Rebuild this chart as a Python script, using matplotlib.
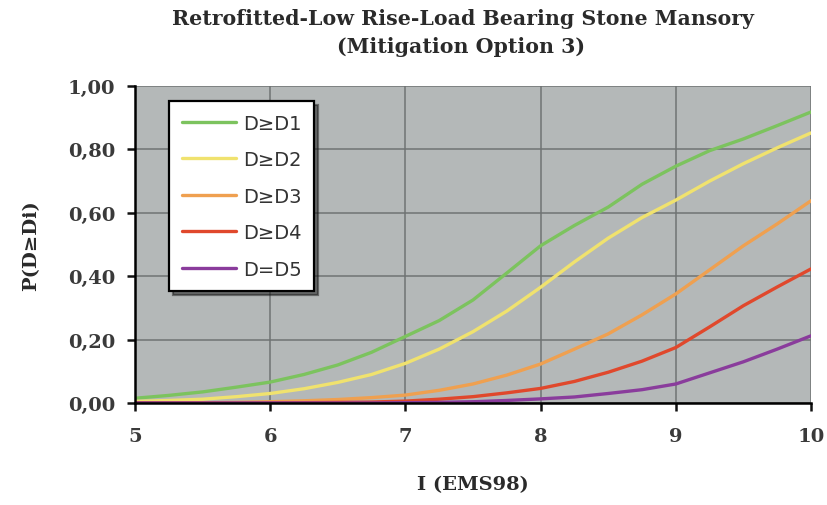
import numpy as np
import matplotlib
matplotlib.use("Agg")
import matplotlib.pyplot as plt

# intensity (EMS98) and exceedance probabilities
intensity = [5.0, 5.25, 5.5, 5.75, 6.0, 6.25, 6.5, 6.75, 7.0, 7.25, 7.5,
             7.75, 8.0, 8.25, 8.5, 8.75, 9.0, 9.25, 9.5, 9.75, 10.0]
p_d1 = [0.015, 0.024, 0.035, 0.05, 0.066, 0.09, 0.12, 0.16, 0.21, 0.26, 0.325,
        0.41, 0.496, 0.56, 0.618, 0.69, 0.747, 0.796, 0.833, 0.875, 0.918]
p_d2 = [0.005, 0.008, 0.012, 0.02, 0.03, 0.045, 0.065, 0.09, 0.125, 0.17, 0.225,
        0.29, 0.365, 0.445, 0.52, 0.585, 0.64, 0.70, 0.755, 0.805, 0.852]
p_d3 = [0.0, 0.0, 0.001, 0.002, 0.004, 0.007, 0.011, 0.017, 0.025, 0.04, 0.06,
        0.088, 0.123, 0.17, 0.218, 0.278, 0.344, 0.42, 0.496, 0.565, 0.638]
p_d4 = [0.0, 0.0, 0.0, 0.0, 0.0, 0.001, 0.002, 0.003, 0.006, 0.012, 0.02,
        0.032, 0.046, 0.068, 0.097, 0.132, 0.175, 0.24, 0.307, 0.366, 0.423]
p_d5 = [0.0, 0.0, 0.0, 0.0, 0.0, 0.0, 0.0, 0.0, 0.001, 0.002, 0.004,
        0.008, 0.013, 0.019, 0.03, 0.042, 0.06, 0.095, 0.13, 0.17, 0.212]

labels = ["D\u2265D1", "D\u2265D2", "D\u2265D3", "D\u2265D4", "D=D5"]
colors = ["#7cc35e", "#f0e26e", "#efa050", "#e0482c", "#8a3c9c"]
series = [p_d1, p_d2, p_d3, p_d4, p_d5]

yticks = [0.0, 0.2, 0.4, 0.6, 0.8, 1.0]
xticks = [5, 6, 7, 8, 9, 10]

serif = ["DejaVu Serif"]
txt_col = "#2a2a2a"

fig = plt.figure(figsize=(8.28, 5.06), dpi=100)
ax = fig.add_axes([135 / 828, 1 - 404 / 506, 676 / 828, 317 / 506])
ax.set_facecolor("#b4b8b8")

for vals, lab, col in zip(series, labels, colors):
    ax.plot(intensity, vals, color=col, lw=2.4, label=lab, solid_capstyle="round")

ax.set_xlim(5, 10)
ax.set_ylim(0, 1.0)
ax.set_xticks(xticks)
ax.set_yticks(yticks)
ax.set_yticklabels([f"{v:.2f}".replace(".", ",") for v in yticks])
ax.grid(True, color="#6f7373", lw=1.1)
ax.set_axisbelow(True)

for s in ["top", "right"]:
    ax.spines[s].set_visible(False)
ax.spines["left"].set_linewidth(1.8)
ax.spines["bottom"].set_linewidth(1.8)
ax.tick_params(direction="out", length=6, width=1.8, colors="#111111",
               labelsize=14, labelcolor="#3a3a3a")
ax.tick_params(axis="x", pad=11)
ax.tick_params(axis="y", pad=8)
for t in ax.get_xticklabels() + ax.get_yticklabels():
    t.set_fontfamily(serif)
    t.set_fontweight("bold")

ax.set_xlabel("I (EMS98)", fontsize=14, fontweight="bold", family=serif,
              labelpad=22, color=txt_col)
ax.set_ylabel("P(D\u2265Di)", fontsize=14, fontweight="bold", family=serif,
              labelpad=20, color=txt_col)

fig.text(463 / 828, 1 - 19 / 506, "Retrofitted-Low Rise-Load Bearing Stone Mansory",
         ha="center", va="center", fontsize=14.8, fontweight="bold", family=serif,
         color=txt_col)
fig.text(461 / 828, 1 - 47 / 506, "(Mitigation Option 3)",
         ha="center", va="center", fontsize=14.8, fontweight="bold", family=serif,
         color=txt_col)

leg = ax.legend(loc="upper left", bbox_to_anchor=((169 - 135) / 676, (404 - 102) / 317),
                borderaxespad=0, frameon=True, fancybox=False,
                shadow={"ox": 3, "oy": -3, "shade": 0.9},
                handlelength=2.8, labelspacing=0.9, borderpad=0.65,
                handletextpad=0.35,
                prop={"family": ["DejaVu Sans"], "size": 14})
leg.get_frame().set_edgecolor("black")
leg.get_frame().set_linewidth(1.6)
leg.get_frame().set_alpha(1.0)
for txt in leg.get_texts():
    txt.set_color("#333333")

fig.savefig("out.png", dpi=100)
